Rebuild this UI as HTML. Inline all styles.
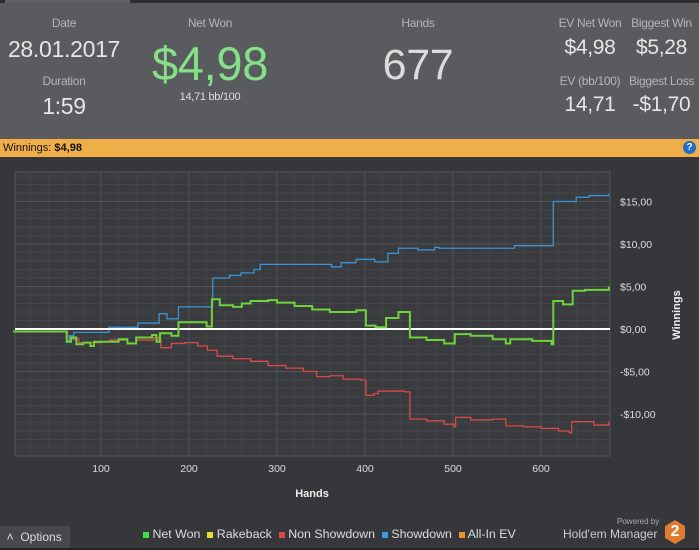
<!DOCTYPE html>
<html><head><meta charset="utf-8"><style>
body{margin:0;width:699px;height:550px;background:#35373a;font-family:"Liberation Sans",sans-serif;overflow:hidden;position:relative}
.t{position:absolute;text-align:center;color:#e6e6e6;letter-spacing:-0.3px}
.lbl{font-size:12px;color:#b4b6b8}
</style></head><body>
<div style="position:absolute;left:0;top:0;width:699px;height:3px;background:#2c2e31"></div>
<div style="position:absolute;left:0;top:3px;width:699px;height:136px;background:#595b5e">
 <div class="t lbl" style="left:4px;width:120px;top:13px">Date</div>
 <div class="t" style="left:4px;width:120px;top:33px;font-size:23px">28.01.2017</div>
 <div class="t lbl" style="left:4px;width:120px;top:71px">Duration</div>
 <div class="t" style="left:4px;width:120px;top:90px;font-size:23px">1:59</div>
 <div class="t lbl" style="left:150px;width:120px;top:13px">Net Won</div>
 <div class="t" style="left:140px;width:140px;top:33px;font-size:47px;color:#86e08a">$4,98</div>
 <div class="t" style="left:150px;width:120px;top:88px;font-size:11px;color:#ddd">14,71 bb/100</div>
 <div class="t lbl" style="left:358px;width:120px;top:13px">Hands</div>
 <div class="t" style="left:358px;width:120px;top:38px;font-size:43px;color:#dcdcdc">677</div>
 <div class="t lbl" style="left:555px;width:70px;top:13px">EV Net Won</div>
 <div class="t" style="left:555px;width:70px;top:33px;font-size:21px">$4,98</div>
 <div class="t lbl" style="left:624px;width:75px;top:13px">Biggest Win</div>
 <div class="t" style="left:624px;width:75px;top:33px;font-size:21px">$5,28</div>
 <div class="t lbl" style="left:555px;width:70px;top:71px">EV (bb/100)</div>
 <div class="t" style="left:555px;width:70px;top:90px;font-size:21px">14,71</div>
 <div class="t lbl" style="left:624px;width:75px;top:71px">Biggest Loss</div>
 <div class="t" style="left:624px;width:75px;top:90px;font-size:21px">-$1,70</div>
</div>
<div style="position:absolute;left:5px;top:0;width:125px;height:3px;background:#5f6164"></div>
<div style="position:absolute;left:0;top:139px;width:699px;height:18px;background:#f0ae48;font-size:11px;line-height:18px;color:#111">&nbsp;Winnings: <b>$4,98</b>
 <div style="position:absolute;right:3px;top:2px;width:13px;height:13px;border-radius:50%;background:#1e6fc8;color:#fff;font-size:10px;line-height:13px;text-align:center;font-weight:bold">?</div>
</div>
<svg id="chart" style="position:absolute;left:0;top:0" width="699" height="550"></svg>
<div style="position:absolute;left:0;top:526px;width:70px;height:22px;background:#46484b;color:#ddd;font-size:12px;line-height:22px">&nbsp;&nbsp;˄&nbsp;&nbsp;Options</div>
<div style="position:absolute;left:143px;top:527px;font-size:12.4px;color:#ddd;white-space:nowrap">
 <span><span style="display:inline-block;width:6px;height:6px;background:#3fe040"></span> Net Won</span>&nbsp;
 <span><span style="display:inline-block;width:6px;height:6px;background:#e8e030"></span> Rakeback</span>&nbsp;
 <span><span style="display:inline-block;width:6px;height:6px;background:#e04848"></span> Non Showdown</span>&nbsp;
 <span><span style="display:inline-block;width:6px;height:6px;background:#3a9ae0"></span> Showdown</span>&nbsp;
 <span><span style="display:inline-block;width:6px;height:6px;background:#f09030"></span> All-In EV</span>
</div>
<div style="position:absolute;left:617px;top:517px;font-size:8px;color:#aaa">Powered by</div>
<div style="position:absolute;left:563px;top:527px;font-size:12px;color:#ccc">Hold'em Manager</div>
<div style="position:absolute;left:665px;top:520px;width:20px;height:24px;background:#e07a30;clip-path:polygon(50% 0,100% 25%,100% 75%,50% 100%,0 75%,0 25%);color:#fff;font-weight:bold;font-size:16px;text-align:center;line-height:24px">2</div>
<div style="position:absolute;left:0;top:548px;width:699px;height:2px;background:#222"></div>
<script>
const hands=[0,100,200,300,400,500,600];
const yTicks=[15,10,5,0,-5,-10];
const yLabels=["$15,00","$10,00","$5,00","$0,00","-$5,00","-$10,00"];
const netWonH=[0,59,61,66,72,80,88,92,110,120,130,140,158,163,167,180,188,205,220,226,235,250,260,270,290,300,320,340,360,380,390,401,412,424,438,451,470,490,502,520,545,560,565,590,612,614,625,636,650,677];
const netWonV=[-0.3,-0.3,-1.5,-1.0,-1.8,-1.6,-2.0,-1.5,-1.5,-1.2,-1.7,-1.0,-0.7,-1.5,-0.5,-0.8,0.8,0.8,0.3,3.5,2.8,2.6,3.0,3.3,3.4,3.1,2.7,2.3,2.0,2.0,2.2,0.4,0.2,1.3,2.0,-1.0,-1.3,-1.7,-0.6,-0.8,-1.2,-1.7,-1.2,-1.4,-1.8,3.3,2.9,4.5,4.6,4.98];
const showdownH=[0,59,61,64,69,109,142,166,175,188,226,227,246,259,274,281,340,362,373,390,411,426,438,460,479,484,570,613,614,630,640,655,677];
const showdownV=[-0.3,-0.3,-1.3,-0.8,-0.4,0.2,0.7,1.8,1.2,2.6,2.6,6.0,6.3,6.6,7.0,7.6,7.6,7.3,7.8,8.2,7.9,8.9,9.5,9.3,9.6,9.5,9.8,9.8,15.0,15.0,15.5,15.7,15.9];
const nonShowH=[0,59,62,66,75,90,100,110,130,140,160,165,168,180,195,210,221,232,250,270,290,310,330,345,360,375,395,401,410,415,445,451,470,490,501,503,520,545,560,580,600,620,632,635,660,677];
const nonShowV=[-0.3,-0.3,-1.0,-1.2,-1.6,-1.6,-1.5,-1.3,-1.7,-1.3,-1.0,-1.2,-2.2,-1.7,-1.6,-2.0,-2.5,-3.2,-3.5,-3.8,-4.3,-4.6,-5.0,-5.6,-5.5,-5.9,-6.0,-7.8,-7.6,-7.3,-7.4,-10.6,-10.8,-11.2,-11.5,-10.4,-10.7,-10.6,-11.4,-11.5,-11.7,-12.0,-12.2,-10.9,-11.3,-10.9];
const svg=document.getElementById('chart');
const NS='http://www.w3.org/2000/svg';
const L=15,R=610,T=172,B=456;
const xS=h=>13+h*0.88;
const yS=v=>329-v*8.5;
function mk(tag,at){const e=document.createElementNS(NS,tag);for(const k in at)e.setAttribute(k,at[k]);svg.appendChild(e);return e;}
const bg=mk('rect',{x:L,y:T,width:R-L,height:B-T,fill:'#393b3e',stroke:'#55575a'});


for(let h=20;h<680;h+=20){const g=mk('line',{x1:xS(h),x2:xS(h),y1:T,y2:B,stroke:h%100?'#424447':'#535558'});

}
for(let v=-14;v<=18;v++){const g=mk('line',{x1:L,x2:R,y1:yS(v),y2:yS(v),stroke:v%5?'#424447':'#535558'});

}
hands.forEach(h=>{if(!h)return;const t=mk('text',{x:xS(h),y:472,fill:'#ddd','font-size':10.5,'text-anchor':'middle'});t.textContent=h;

});
yTicks.forEach((v,i)=>{const t=mk('text',{x:620,y:yS(v)+4,fill:'#ddd','font-size':10.5});t.textContent=yLabels[i];

});
const xt=mk('text',{x:312,y:497,fill:'#eee','font-size':11,'font-weight':'bold','text-anchor':'middle'});xt.textContent='Hands';


const yt=mk('text',{x:0,y:0,fill:'#eee','font-size':11,'font-weight':'bold','text-anchor':'middle',transform:'translate(680,315) rotate(-90)'});yt.textContent='Winnings';


function step(H,V){let d='M'+xS(H[0])+','+yS(V[0]);for(let i=1;i<H.length;i++){d+=' H'+xS(H[i])+' V'+yS(V[i]);}return d;}
const ns=mk('path',{d:step(nonShowH,nonShowV),fill:'none',stroke:'#d84a48','stroke-width':1.3});


const sd=mk('path',{d:step(showdownH,showdownV),fill:'none',stroke:'#3b93d3','stroke-width':1.3});


const zl=mk('line',{x1:L,x2:R,y1:yS(0),y2:yS(0),stroke:'#fff','stroke-width':2});


const nw=mk('path',{d:step(netWonH,netWonV),fill:'none',stroke:'#6ed33a','stroke-width':2});


</script>
</body></html>
